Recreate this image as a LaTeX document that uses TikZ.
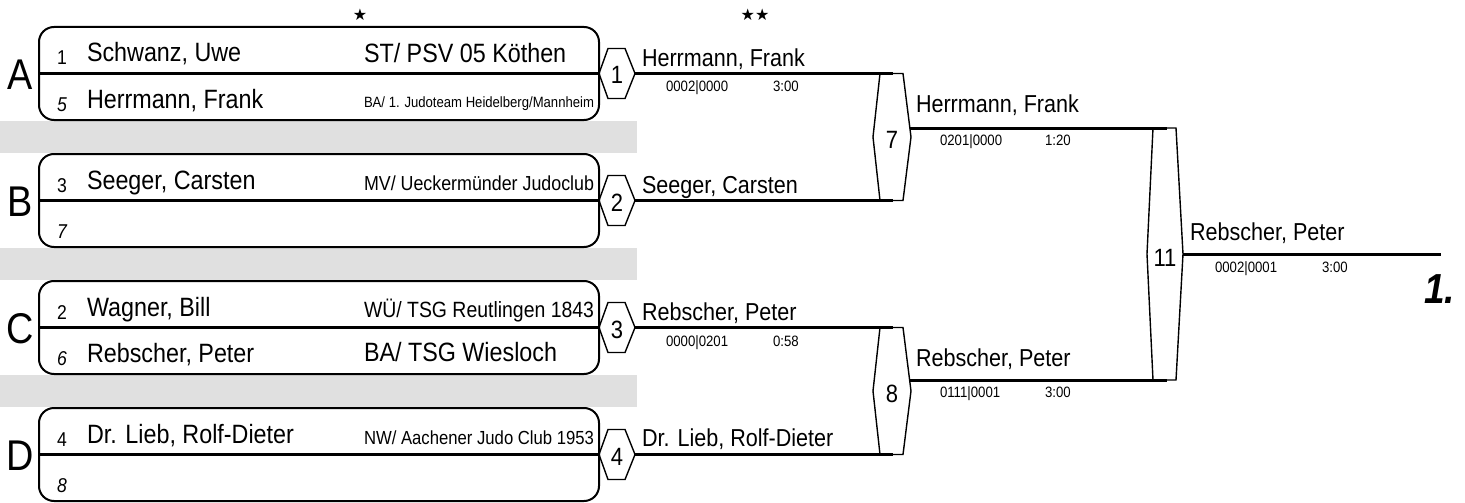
\documentclass[tikz,border=0pt]{standalone}
\usepackage{fontspec}
\setmainfont[FakeStretch=0.88]{Liberation Sans}
\newfontfamily\symfont{DejaVu Sans}
\usepackage{graphicx}
\definecolor{barGray}{RGB}{224,224,224}
\newcommand\fs[1]{\fontsize{#1}{#1}\selectfont}
\newcommand\clubfit[1]{\sbox0{#1}\ifdim\wd0>230pt\resizebox{230pt}{!}{#1}\else\usebox0\fi}
\newcommand\ifnonempty[2]{\if\relax\detokenize{#1}\relax\else#2\fi}
\tikzset{
  poolbox/.style={draw, line width=2pt, rounded corners=15pt, minimum width=560pt, minimum height=93pt, inner sep=0pt},
  divline/.style={line width=2.5pt},
  wire/.style={line width=3pt},
  hexline/.style={line width=1.4pt, line join=miter},
  txt/.style={inner sep=0pt, outer sep=0pt, anchor=base west},
  pname/.style={txt, font=\fs{26.5}},
  club/.style={txt, font=\fs{26.5}},
  seed/.style={txt, font=\fs{20}},
  seedi/.style={txt, font=\fs{20}\itshape},
  bname/.style={txt, font=\fs{24.5}},
  score/.style={txt, font=\fs{15}},
  hexnum/.style={inner sep=0pt, anchor=base, font=\fs{25}},
  poolletter/.style={inner sep=0pt, anchor=base, font=\fs{43}},
  starmark/.style={inner sep=0pt, font=\symfont\fs{16}},
}
\newcommand\poolrows[9]{%
  \pgfmathsetmacro\pT{#2}%
  \node[poolbox] (box#1) at (319,\pT+46.5) {};
  \draw[divline] (box#1.west) -- (box#1.east);
  \node[poolletter] (let#1) at (20.5,\pT+62) {#3};
  \node[seed] (s#1a) at (57,\pT+38) {#4};
  \ifnonempty{#5}{\node[pname] (n#1a) at (87,\pT+35) {#5};}
  \ifnonempty{#6}{\node[club] (c#1a) at (364,\pT+36) {\clubfit{#6}};}
  \node[seedi] (s#1b) at (57,\pT+84) {#7};
  \ifnonempty{#8}{\node[pname] (n#1b) at (87,\pT+81) {#8};}
  \ifnonempty{#9}{\node[club] (c#1b) at (364,\pT+80) {\clubfit{#9}};}
}
% name, L, x1, x2, R, T, M, B
\newcommand\hexshape[8]{%
  \draw[hexline] (#2,#7) -- (#3,#6) -- (#4,#6) -- (#5,#7) -- (#4,#8) -- (#3,#8) -- cycle;
  \coordinate (#1r) at (#5,#7);
}
\begin{document}
\begin{tikzpicture}[x=1pt,y=-1pt]
\useasboundingbox (0,0) rectangle (1465,503);
% grey separators
\fill[barGray] (0,121.2) rectangle (637,153);
\fill[barGray] (0,248.2) rectangle (637,280);
\fill[barGray] (0,375.2) rectangle (637,407);
% pools
\poolrows{A}{27}{A}{1}{Schwanz, Uwe}{ST/ PSV 05 Köthen}{5}{Herrmann, Frank}{BA/ 1. Judoteam Heidelberg/Mannheim}
\poolrows{B}{154}{B}{3}{Seeger, Carsten}{MV/ Ueckermünder Judoclub}{7}{}{}
\poolrows{C}{281}{C}{2}{Wagner, Bill}{WÜ/ TSG Reutlingen 1843}{6}{Rebscher, Peter}{BA/ TSG Wiesloch}
\poolrows{D}{408}{D}{4}{Dr. Lieb, Rolf-Dieter}{NW/ Aachener Judo Club 1953}{8}{}{}
% stars
\node[starmark] (star1) at (360,15) {★};
\node[starmark] (star2) at (755,15) {★★};
% round 1 hexagons
\hexshape{h1}{599}{608}{625}{635}{48.5}{73.5}{98.5}
\hexshape{h2}{599}{608}{625}{635}{175.5}{200.5}{225.5}
\hexshape{h3}{599}{608}{625}{635}{302.5}{327.5}{352.5}
\hexshape{h4}{599}{608}{625}{635}{429.5}{454.5}{479.5}
\node[hexnum] (n1) at (617,84) {1};
\node[hexnum] (n2) at (617,211) {2};
\node[hexnum] (n3) at (617,338) {3};
\node[hexnum] (n4) at (617,465) {4};
% round 2 hexagons
\hexshape{h7}{873}{880}{903}{911}{73.5}{137}{200.5}
\hexshape{h8}{873}{880}{903}{911}{327.5}{391}{454.5}
\node[hexnum] (n7) at (892,148) {7};
\node[hexnum] (n8) at (892,402) {8};
% final hexagon
\hexshape{h11}{1147}{1153}{1176}{1183}{128}{254}{380}
\node[hexnum] (n11) at (1165,266) {11};
% wire end points
\coordinate (e1) at (893,73.5);
\coordinate (e2) at (893,200.5);
\coordinate (e3) at (893,327.5);
\coordinate (e4) at (893,454.5);
\coordinate (s7) at (909.9,128);
\coordinate (e7) at (1167,128);
\coordinate (s8) at (909.6,380);
\coordinate (e8) at (1167,380);
\coordinate (e11) at (1441,254);
\draw[wire] (h1r) -- (e1);
\draw[wire] (h2r) -- (e2);
\draw[wire] (h3r) -- (e3);
\draw[wire] (h4r) -- (e4);
\draw[wire] (s7) -- (e7);
\draw[wire] (s8) -- (e8);
\draw[wire] (h11r) -- (e11);
% round 1 results
\node[bname] (w1) at (642,66.5) {Herrmann, Frank};
\node[score] (p1) at (666,92) {0002|0000};
\node[score] (t1) at (773,92) {3:00};
\node[bname] (w2) at (642,193.5) {Seeger, Carsten};
\node[bname] (w3) at (642,320.5) {Rebscher, Peter};
\node[score] (p3) at (666,346) {0000|0201};
\node[score] (t3) at (773,346) {0:58};
\node[bname] (w4) at (642,446) {Dr. Lieb, Rolf-Dieter};
% round 2 results
\node[bname] (w7) at (916,113) {Herrmann, Frank};
\node[score] (p7) at (940,145) {0201|0000};
\node[score] (t7) at (1045,145) {1:20};
\node[bname] (w8) at (916,366) {Rebscher, Peter};
\node[score] (p8) at (940,397) {0111|0001};
\node[score] (t8) at (1045,397) {3:00};
% final
\node[bname] (w11) at (1190,240) {Rebscher, Peter};
\node[score] (p11) at (1215,272) {0002|0001};
\node[score] (t11) at (1322,272) {3:00};
\node[txt, font=\fs{42}\bfseries\itshape] (place) at (1424,303) {1.};
\end{tikzpicture}
\end{document}
